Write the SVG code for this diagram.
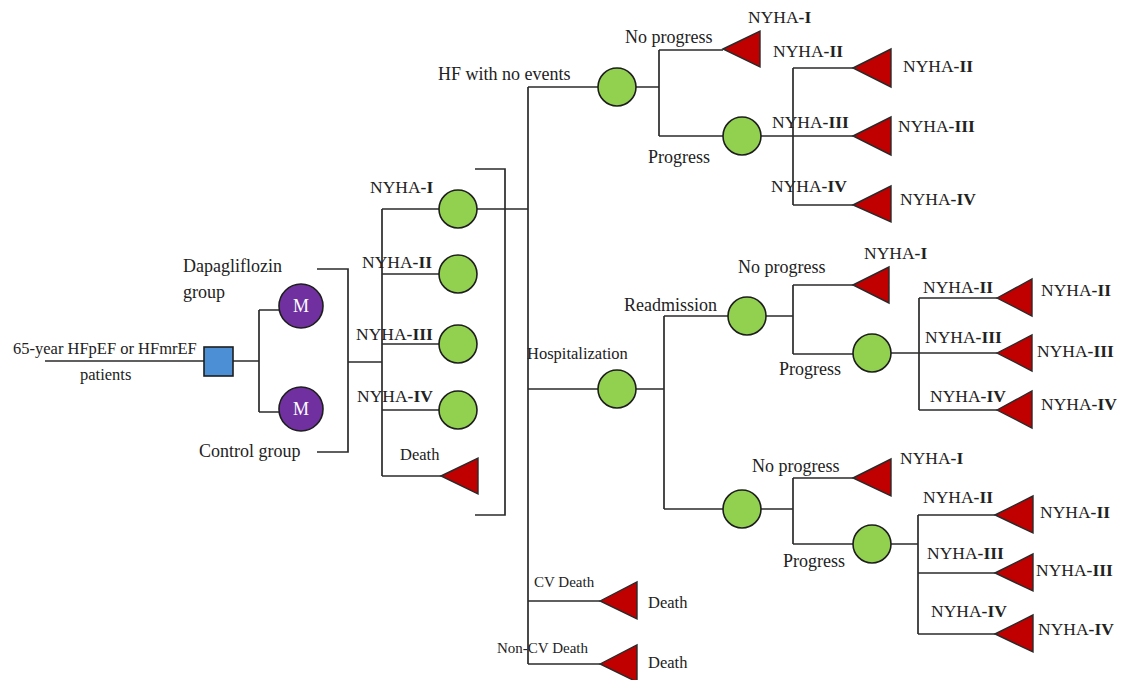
<svg xmlns="http://www.w3.org/2000/svg" width="1121" height="680" viewBox="0 0 1121 680">
<style>
.ln{fill:none;stroke:#2b2b2b;stroke-width:1.7}
.ch{fill:#92d050;stroke:#1e1e1e;stroke-width:1.6}
.tr{fill:#c00000;stroke:#2a2a2a;stroke-width:1.4}
.mk{fill:#7030a0;stroke:#1e1e1e;stroke-width:1.6}
.t{font-family:"Liberation Serif","Times New Roman",serif;font-size:18px;fill:#222}
.s{font-size:16.5px}
.x{font-size:15px}
.n{font-family:"Liberation Serif","Times New Roman",serif;font-size:17.5px;fill:#222}
.b{font-weight:bold}
.m{font-family:"Liberation Serif",serif;font-size:18px;fill:#fff;text-anchor:middle}
</style>
<rect width="1121" height="680" fill="#fff"/>
<g id="connectors">
<path class="ln" d="M45 361H204M233 361H259M259 310V412M259 310H280M259 412H280"/>
<path class="ln" d="M317 269H348V452H317M348 362H382M382 209V476M382 209H440M382 274H440M382 344H440M382 410H440M382 476H441"/>
<path class="ln" d="M475 169H505V515H475"/>
<path class="ln" d="M477 209H528M528 87V664M528 87H600M636 87H659M659 50V136M659 50H723M659 136H723M761 136H853M793 68V205M793 68H853M793 205H853"/>
<path class="ln" d="M528 389H600M636 389H664M664 316V509M664 316H730M766 316H793M793 285V354M793 285H853M793 354H853M891 353H997M919 298V410M919 298H997M919 410H997"/>
<path class="ln" d="M664 509H725M761 509H793M793 478V544M793 478H853M793 544H853M891 544H918M918 515V634M918 515H995M918 573H995M918 634H995"/>
<path class="ln" d="M528 601H600M528 664H600"/>
</g>
<g id="root"><rect x="204" y="347" width="29" height="29" fill="#4d8fd4" stroke="#1e1e1e" stroke-width="1.6"/></g>
<g id="m-dapa"><circle class="mk" cx="301" cy="306" r="22"/><text class="m" x="301" y="312">M</text></g>
<g id="m-control"><circle class="mk" cx="301" cy="409" r="22"/><text class="m" x="301" y="415">M</text></g>
<g id="nyha1"><circle class="ch" cx="458" cy="209" r="19"/></g>
<g id="nyha2"><circle class="ch" cx="458" cy="274" r="19"/></g>
<g id="nyha3"><circle class="ch" cx="458" cy="344" r="19"/></g>
<g id="nyha4"><circle class="ch" cx="458" cy="410" r="19"/></g>
<g id="death0"><polygon class="tr" points="441,476 478,458 478,494"/></g>
<g id="hf-no-events"><circle class="ch" cx="617" cy="87" r="19"/></g>
<g id="hf-np"><polygon class="tr" points="723,49 760,31 760,67"/></g>
<g id="hf-prog"><circle class="ch" cx="742" cy="136" r="19"/></g>
<g id="hf-p2"><polygon class="tr" points="853,68 891,49 891,87"/></g>
<g id="hf-p3"><polygon class="tr" points="853,136 891,117 891,155"/></g>
<g id="hf-p4"><polygon class="tr" points="853,205 891,186 891,222"/></g>
<g id="hosp"><circle class="ch" cx="617" cy="389" r="19"/></g>
<g id="readm"><circle class="ch" cx="747" cy="316" r="19"/></g>
<g id="readm-np"><polygon class="tr" points="853,285 889,267 889,303"/></g>
<g id="readm-prog"><circle class="ch" cx="872" cy="353" r="19"/></g>
<g id="readm-p2"><polygon class="tr" points="997,298 1032,279 1032,316"/></g>
<g id="readm-p3"><polygon class="tr" points="997,353 1032,335 1032,371"/></g>
<g id="readm-p4"><polygon class="tr" points="997,410 1032,391 1032,428"/></g>
<g id="hosp2"><circle class="ch" cx="742" cy="509" r="19"/></g>
<g id="hosp2-np"><polygon class="tr" points="853,478 891,459 891,496"/></g>
<g id="hosp2-prog"><circle class="ch" cx="872" cy="544" r="19"/></g>
<g id="hosp2-p2"><polygon class="tr" points="995,515 1033,496 1033,533"/></g>
<g id="hosp2-p3"><polygon class="tr" points="995,573 1033,554 1033,591"/></g>
<g id="hosp2-p4"><polygon class="tr" points="995,634 1033,615 1033,652"/></g>
<g id="cv-death"><polygon class="tr" points="600,601 637,582 637,619"/></g>
<g id="noncv-death"><polygon class="tr" points="600,664 637,645 637,682"/></g>
<g id="labels">
<text class="t s" x="13" y="354">65-year HFpEF or HFmrEF</text>
<text class="t s" x="80" y="380">patients</text>
<text class="t" x="183" y="272">Dapagliflozin</text>
<text class="t" x="183" y="298">group</text>
<text class="t" x="199" y="457">Control group</text>
<text class="n" x="370" y="193">NYHA<tspan class="b">-I</tspan></text>
<text class="n" x="362" y="268">NYHA<tspan class="b">-II</tspan></text>
<text class="n" x="356" y="340">NYHA<tspan class="b">-III</tspan></text>
<text class="n" x="357" y="402">NYHA<tspan class="b">-IV</tspan></text>
<text class="t s" x="400" y="460">Death</text>
<text class="t" x="438" y="80">HF with no events</text>
<text class="t" x="625" y="43">No progress</text>
<text class="t" x="648" y="163">Progress</text>
<text class="n" x="748" y="23">NYHA<tspan class="b">-I</tspan></text>
<text class="n" x="773" y="57">NYHA<tspan class="b">-II</tspan></text>
<text class="n" x="772" y="128">NYHA<tspan class="b">-III</tspan></text>
<text class="n" x="771" y="192">NYHA<tspan class="b">-IV</tspan></text>
<text class="n" x="903" y="72">NYHA<tspan class="b">-II</tspan></text>
<text class="n" x="898" y="132">NYHA<tspan class="b">-III</tspan></text>
<text class="n" x="900" y="205">NYHA<tspan class="b">-IV</tspan></text>
<text class="t s" x="527" y="359">Hospitalization</text>
<text class="t" x="624" y="311">Readmission</text>
<text class="t" x="738" y="273">No progress</text>
<text class="t" x="779" y="375">Progress</text>
<text class="n" x="864" y="259">NYHA<tspan class="b">-I</tspan></text>
<text class="n" x="923" y="293">NYHA<tspan class="b">-II</tspan></text>
<text class="n" x="925" y="343">NYHA<tspan class="b">-III</tspan></text>
<text class="n" x="930" y="402">NYHA<tspan class="b">-IV</tspan></text>
<text class="n" x="1041" y="296">NYHA<tspan class="b">-II</tspan></text>
<text class="n" x="1037" y="357">NYHA<tspan class="b">-III</tspan></text>
<text class="n" x="1041" y="410">NYHA<tspan class="b">-IV</tspan></text>
<text class="t" x="752" y="472">No progress</text>
<text class="t" x="783" y="567">Progress</text>
<text class="n" x="900" y="464">NYHA<tspan class="b">-I</tspan></text>
<text class="n" x="923" y="503">NYHA<tspan class="b">-II</tspan></text>
<text class="n" x="927" y="559">NYHA<tspan class="b">-III</tspan></text>
<text class="n" x="931" y="617">NYHA<tspan class="b">-IV</tspan></text>
<text class="n" x="1040" y="518">NYHA<tspan class="b">-II</tspan></text>
<text class="n" x="1036" y="576">NYHA<tspan class="b">-III</tspan></text>
<text class="n" x="1038" y="635">NYHA<tspan class="b">-IV</tspan></text>
<text class="t x" x="534" y="587">CV Death</text>
<text class="t x" x="497" y="653">Non-CV Death</text>
<text class="t s" x="648" y="608">Death</text>
<text class="t s" x="648" y="668">Death</text>
</g>
</svg>
